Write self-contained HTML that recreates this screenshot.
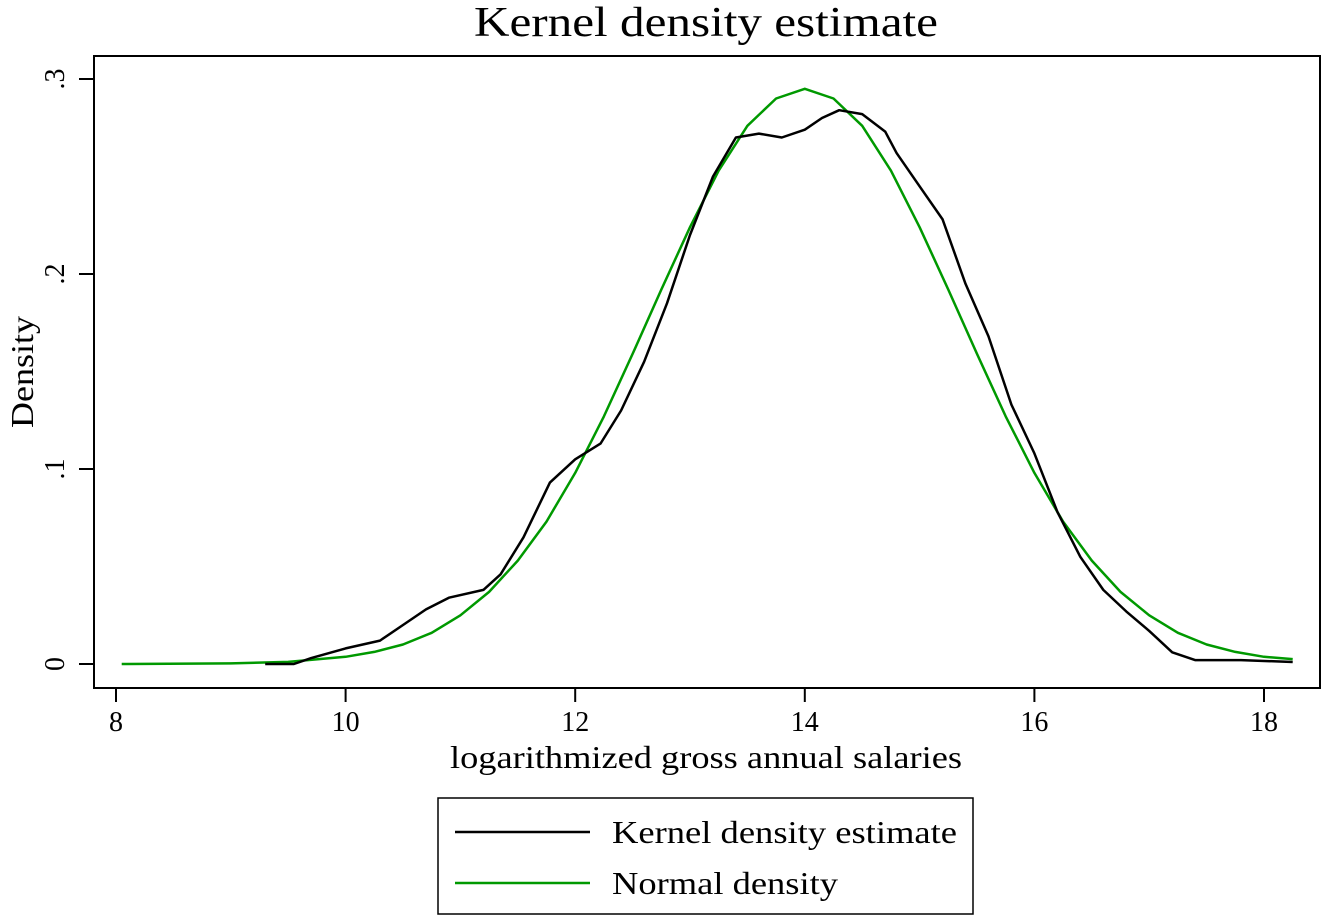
<!DOCTYPE html>
<html><head><meta charset="utf-8"><style>
body{margin:0;background:#fff}
svg text{font-family:"Liberation Serif",serif;fill:#000}
</style></head><body>
<svg width="1323" height="918" viewBox="0 0 1323 918">
<text x="706" y="36" font-size="42" text-anchor="middle" textLength="464" lengthAdjust="spacingAndGlyphs">Kernel density estimate</text>
<rect x="94" y="56" width="1226" height="632" fill="none" stroke="#000" stroke-width="2"/>
<g id="axes"></g>
<g id="series"></g>
<text x="706" y="768" font-size="32" text-anchor="middle" textLength="512" lengthAdjust="spacingAndGlyphs">logarithmized gross annual salaries</text>
<text transform="translate(33,372) rotate(-90)" font-size="32" text-anchor="middle" textLength="112" lengthAdjust="spacingAndGlyphs">Density</text>
<g>
<rect x="438" y="798" width="535" height="116" fill="#fff" stroke="#000" stroke-width="1.5"/>
<line x1="455" y1="832" x2="590" y2="832" stroke="#000" stroke-width="2.5"/>
<text x="612" y="843" font-size="32" textLength="345" lengthAdjust="spacingAndGlyphs">Kernel density estimate</text>
<line x1="455" y1="883" x2="590" y2="883" stroke="#009900" stroke-width="2.5"/>
<text x="612" y="894" font-size="32" textLength="226" lengthAdjust="spacingAndGlyphs">Normal density</text>
</g>
</svg>
<script>
const xTicks=[8,10,12,14,16,18];
const yTicks=[0,0.1,0.2,0.3];
const yTickLabels=["0",".1",".2",".3"];
const kernelX=[9.3,9.55,9.7,10,10.3,10.5,10.7,10.9,11.2,11.35,11.55,11.78,12,12.22,12.4,12.6,12.8,13,13.2,13.4,13.6,13.8,14,14.15,14.3,14.5,14.7,14.8,15,15.2,15.4,15.6,15.8,16,16.2,16.4,16.6,16.8,17,17.2,17.4,17.8,18.25];
const kernelY=[0,0,0.003,0.008,0.012,0.02,0.028,0.034,0.038,0.046,0.065,0.093,0.105,0.113,0.13,0.155,0.185,0.22,0.25,0.27,0.272,0.27,0.274,0.28,0.284,0.282,0.273,0.262,0.245,0.228,0.195,0.168,0.133,0.108,0.078,0.055,0.038,0.027,0.017,0.006,0.002,0.002,0.001];
const normalX=[8.05,9,9.5,10,10.25,10.5,10.75,11,11.25,11.5,11.75,12,12.25,12.5,12.75,13,13.25,13.5,13.75,14,14.25,14.5,14.75,15,15.25,15.5,15.75,16,16.25,16.5,16.75,17,17.25,17.5,17.75,18,18.25];
const normalY=[0,0.0003,0.0011,0.0037,0.0062,0.010,0.016,0.025,0.037,0.053,0.073,0.098,0.127,0.159,0.192,0.224,0.253,0.276,0.290,0.295,0.290,0.276,0.253,0.224,0.192,0.159,0.127,0.098,0.073,0.053,0.037,0.025,0.016,0.010,0.0062,0.0037,0.0025];
const NS="http://www.w3.org/2000/svg";
function sx(v){return 116+(v-8)*114.8;}
function sy(v){return 664-v*1950;}
const axes=document.getElementById('axes');
function mk(tag,attrs,parent){const e=document.createElementNS(NS,tag);for(const k in attrs)e.setAttribute(k,attrs[k]);parent.appendChild(e);return e;}
xTicks.forEach(t=>{
 const l=mk('line',{x1:sx(t),x2:sx(t),y1:688,y2:702,stroke:'#000','stroke-width':2},axes);
 
 
 const tx=mk('text',{x:sx(t),y:731,'font-size':28,'text-anchor':'middle'},axes);
 tx.textContent=t;
 
 
});
yTicks.forEach((t,i)=>{
 const l=mk('line',{x1:79,x2:94,y1:sy(t),y2:sy(t),stroke:'#000','stroke-width':2},axes);
 
 
 const tx=mk('text',{transform:`translate(64,${sy(t)}) rotate(-90)`,'font-size':28,'text-anchor':'middle'},axes);
 tx.textContent=yTickLabels[i];
 
 
});
const series=document.getElementById('series');
function path(xs,ys,color,name){
 const d=xs.map((x,i)=>(i?'L':'M')+sx(x).toFixed(1)+','+sy(ys[i]).toFixed(1)).join('');
 const p=mk('path',{d:d,fill:'none',stroke:color,'stroke-width':2.5,'stroke-linejoin':'round'},series);
 
 
}
path(normalX,normalY,'#009900','normal-density-line');
path(kernelX,kernelY,'#000','kernel-density-line');
</script>
</body></html>
